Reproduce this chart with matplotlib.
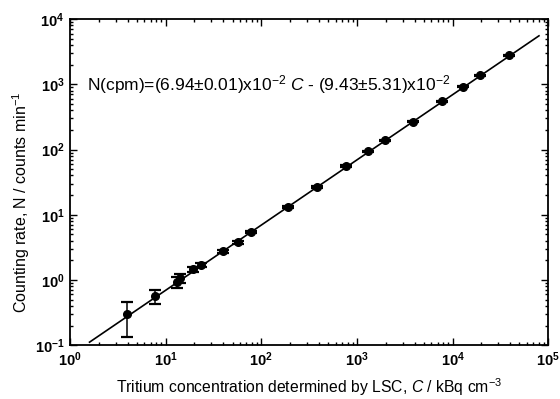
import numpy as np
import matplotlib
matplotlib.use("Agg")
import matplotlib.pyplot as plt
from matplotlib.ticker import LogLocator, FixedLocator, FixedFormatter, NullFormatter

plt.rcParams['font.family'] = ['Liberation Sans', 'DejaVu Sans']
plt.rcParams['mathtext.fontset'] = 'custom'
plt.rcParams['mathtext.rm'] = 'Liberation Sans'
plt.rcParams['mathtext.it'] = 'Liberation Sans:italic'
plt.rcParams['mathtext.bf'] = 'Liberation Sans:bold'

# Datos
conc = [3.92, 7.8, 13.0, 14.2, 19.5, 23.3, 39.6, 56.8, 78.2, 192, 380, 765,
        1318, 1972, 3900, 7730, 12800, 19400, 38500]
rate = [0.30, 0.57, 0.93, 1.07, 1.45, 1.69, 2.77, 3.76, 5.47, 13.2, 26.8, 55.7,
        94.5, 139, 266, 552, 916, 1384, 2800]
rate_err = [0.165, 0.14, 0.17, 0.16, 0.12, 0.13, 0.15, 0.2, 0.25, 0.4, 0.8, 1.5,
            2.0, 3.0, 5.0, 8.0, 12.0, 18.0, 30.0]

slope = 6.94e-2
fit_range = [1.6, 8.0e4]

x_ticks = [1e0, 1e1, 1e2, 1e3, 1e4, 1e5]
x_labels = [r'$\mathbf{10^{0}}$', r'$\mathbf{10^{1}}$', r'$\mathbf{10^{2}}$',
            r'$\mathbf{10^{3}}$', r'$\mathbf{10^{4}}$', r'$\mathbf{10^{5}}$']
y_ticks = [1e-1, 1e0, 1e1, 1e2, 1e3, 1e4]
y_labels = [r'$\mathbf{10^{-1}}$', r'$\mathbf{10^{0}}$', r'$\mathbf{10^{1}}$',
            r'$\mathbf{10^{2}}$', r'$\mathbf{10^{3}}$', r'$\mathbf{10^{4}}$']

fig = plt.figure(figsize=(5.6, 3.99), dpi=100)
ax = fig.add_axes([0.125, 0.135, 0.854, 0.817])

# Recta de ajuste
xf = np.logspace(np.log10(fit_range[0]), np.log10(fit_range[1]), 200)
ax.plot(xf, slope * xf, color='black', lw=1.2)

# Puntos con barras de error
ax.errorbar(conc, rate, yerr=rate_err, fmt='o', color='black', ms=5.5,
            capsize=4.5, elinewidth=1.1, capthick=1.6)

ax.set_xscale('log')
ax.set_yscale('log')
ax.set_xlim(1, 1e5)
ax.set_ylim(1e-1, 1e4)

ax.xaxis.set_major_locator(FixedLocator(x_ticks))
ax.xaxis.set_major_formatter(FixedFormatter(x_labels))
ax.yaxis.set_major_locator(FixedLocator(y_ticks))
ax.yaxis.set_major_formatter(FixedFormatter(y_labels))
ax.xaxis.set_minor_locator(LogLocator(base=10, subs=np.arange(2, 10), numticks=20))
ax.yaxis.set_minor_locator(LogLocator(base=10, subs=np.arange(2, 10), numticks=20))
ax.xaxis.set_minor_formatter(NullFormatter())
ax.yaxis.set_minor_formatter(NullFormatter())

ax.tick_params(which='both', direction='in', top=True, right=True, width=1.0)
ax.tick_params(which='major', length=5, labelsize=10.5, pad=4)
ax.tick_params(which='minor', length=2.5)
for s in ax.spines.values():
    s.set_linewidth(1.3)

ax.set_xlabel(r'Tritium concentration determined by LSC, $C$ / kBq cm$^{-3}$',
              fontsize=11.3, labelpad=5)
ax.set_ylabel(r'Counting rate, N / counts min$^{-1}$', fontsize=11.5)
ax.yaxis.set_label_coords(-0.08, 0.44)

ax.text(1.5, 1000,
        r'N(cpm)=(6.94$\pm$0.01)x10$^{-2}$ $C$ - (9.43$\pm$5.31)x10$^{-2}$',
        fontsize=12.5, va='center', ha='left')

fig.savefig('out.png', dpi=100)
